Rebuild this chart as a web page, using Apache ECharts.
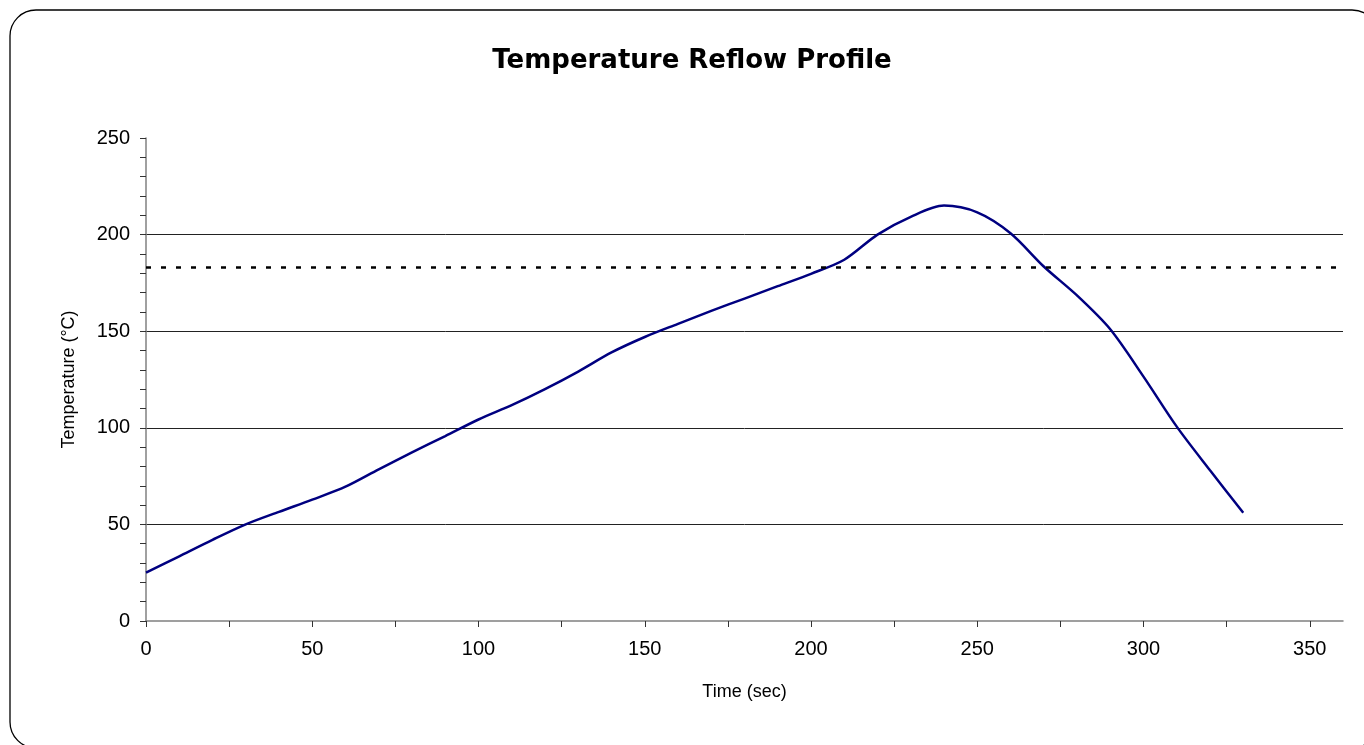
<!DOCTYPE html>
<html>
<head>
<meta charset="utf-8">
<title>Temperature Reflow Profile</title>
<script src="https://cdn.jsdelivr.net/npm/echarts@6/dist/echarts.min.js"></script>
<style>
  html, body { margin: 0; padding: 0; background: #fff; }
  #chart { width: 1364px; height: 745px; }
</style>
</head>
<body>
<div id="chart"></div>
<script>
// time (sec) and measured temperature (°C)
const timeSec = [0, 10, 20, 30, 40, 50, 60, 70, 80, 90, 100, 110, 120, 130, 140, 150, 160,
  170, 180, 190, 200, 210, 220, 230, 240, 250, 260, 270, 280, 290, 300, 310, 320, 330];
const tempC = [25, 33.5, 42, 50, 56.5, 62.8, 69.5, 78.5, 87.3, 95.7, 104.3, 111.7, 120, 129.1,
  139, 147, 153.8, 160.5, 166.9, 173.3, 179.7, 187, 200, 209.2, 215, 211.5, 200.7, 183.5,
  168.5, 151, 126.5, 100.6, 78, 56];
// solder liquidus level
const liquidus = 183;
const xTicks = [0, 25, 50, 75, 100, 125, 150, 175, 200, 225, 250, 275, 300, 325, 350];
const xLabels = [0, 50, 100, 150, 200, 250, 300, 350];

const font = 'Liberation Sans';
const chart = echarts.init(document.getElementById('chart'));
chart.setOption({
  animation: false,
  textStyle: { fontFamily: font },
  graphic: [
    {
      type: 'rect',
      shape: { x: 10, y: 10, width: 1368, height: 738, r: 26 },
      style: { fill: 'none', stroke: '#000', lineWidth: 1.3 }
    },
    {
      type: 'text',
      x: 692,
      y: 61,
      style: {
        text: 'Temperature Reflow Profile',
        font: 'bold 26px "DejaVu Sans"',
        fill: '#000',
        textAlign: 'center',
        textVerticalAlign: 'middle'
      }
    }
  ],
  grid: { left: 146, right: 21, top: 138, bottom: 124 },
  xAxis: {
    type: 'value',
    min: 0,
    max: 360,
    name: 'Time (sec)',
    nameLocation: 'middle',
    nameGap: 62,
    nameTextStyle: { color: '#000', fontSize: 18, fontFamily: font },
    axisLine: { lineStyle: { color: '#808080', width: 1.5 } },
    axisTick: { show: true, length: 6, customValues: xTicks, lineStyle: { color: '#333' } },
    axisLabel: { customValues: xLabels, color: '#000', fontSize: 20, margin: 18 },
    splitLine: { show: false }
  },
  yAxis: {
    type: 'value',
    min: 0,
    max: 250,
    interval: 50,
    name: 'Temperature (°C)',
    nameLocation: 'middle',
    nameRotate: 90,
    nameGap: 68,
    nameTextStyle: { color: '#000', fontSize: 18, fontFamily: font },
    axisLine: { show: true, lineStyle: { color: '#808080', width: 1.5 } },
    axisTick: { show: true, length: 6, lineStyle: { color: '#333' } },
    minorTick: { show: true, splitNumber: 5, length: 6, lineStyle: { color: '#333' } },
    axisLabel: { color: '#000', fontSize: 20, margin: 16 },
    splitLine: { show: true, showMinLine: false, showMaxLine: false, lineStyle: { color: '#222', width: 1 } }
  },
  series: [{
    type: 'line',
    name: 'Temperature',
    data: timeSec.map((t, i) => [t, tempC[i]]),
    smooth: 0.3,
    showSymbol: false,
    lineStyle: { color: '#000080', width: 2.5 },
    markLine: {
      silent: true,
      symbol: 'none',
      label: { show: false },
      lineStyle: { color: '#000', type: [5, 10], width: 2.5 },
      data: [{ yAxis: liquidus }]
    }
  }]
});
</script>
</body>
</html>
